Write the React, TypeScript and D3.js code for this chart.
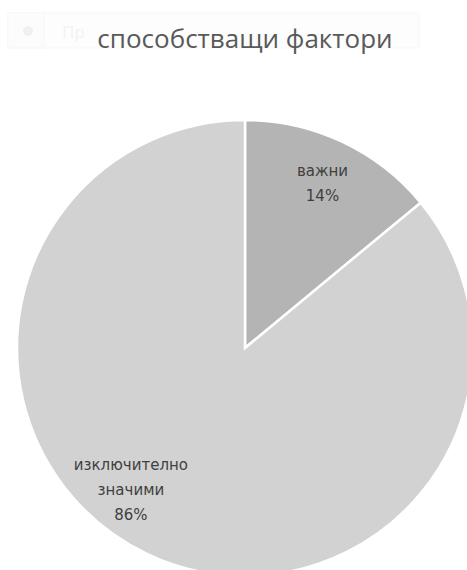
import React from "react";
import * as d3 from "d3";

const categories = ["важни", "изключително значими"];
const labelLines = [["важни", "14%"], ["изключително", "значими", "86%"]];
const values = [14, 86];
const colors = ["#b4b4b4", "#d2d2d2"];
const title = "способстващи фактори";

const W = 467;
const H = 570;
const cx = 245;
const cy = 348;
const R = 228;
const labelRadius = [182, 182];
const labelFrac = [0.5, 0.544];

export default function App() {
  const pie = d3.pie<number>().sort(null).value((d) => d)(values);
  const arc = d3.arc<d3.PieArcDatum<number>>().innerRadius(0).outerRadius(R);
  return (
    <svg width={W} height={H} style={{ position: "absolute", left: 0, top: 0 }}>
      <rect width={W} height={H} fill="#ffffff" />
      <g>
        <rect x={8} y={13} width={411} height={35} fill="#fdfdfd" stroke="#f7f7f7" />
        <rect x={8} y={13} width={36} height={35} fill="#fcfcfc" stroke="#f7f7f7" />
        <circle cx={28} cy={31} r={5} fill="#f0f0f0" />
        <text x={62} y={38} fontFamily="Noto Sans" fontSize={17} fill="#f3f3f3">Пр</text>
      </g>
      <text x={cx} y={48} textAnchor="middle" fontFamily="Open Sans" fontSize={26} fill="#595959">{title}</text>
      <g transform={`translate(${cx},${cy})`}>
        {pie.map((p, i) => (
          <path key={categories[i]} d={arc(p) || ""} fill={colors[i]} stroke="#ffffff" strokeWidth={2.5} />
        ))}
        {pie.map((p, i) => {
          const a = p.startAngle + labelFrac[i] * (p.endAngle - p.startAngle);
          const x = Math.sin(a) * labelRadius[i];
          const y = -Math.cos(a) * labelRadius[i];
          const lines = labelLines[i];
          const lh = 25;
          const y0 = y - ((lines.length - 1) * lh) / 2;
          return (
            <text key={"l" + i} textAnchor="middle" fontFamily="DejaVu Sans" fontSize={15} fill="#404040">
              {lines.map((l, j) => (
                <tspan key={j} x={x} y={y0 + j * lh + 5}>{l}</tspan>
              ))}
            </text>
          );
        })}
      </g>
    </svg>
  );
}
